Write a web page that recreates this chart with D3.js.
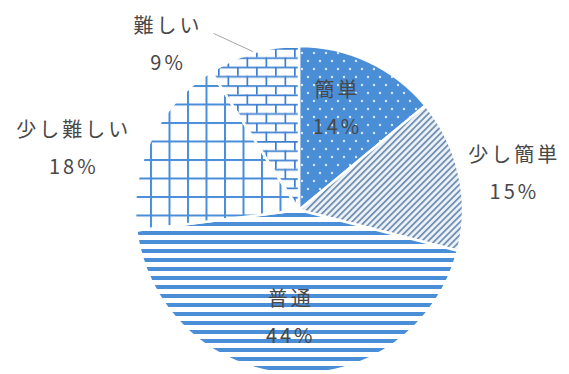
<!DOCTYPE html>
<html><head><meta charset="utf-8">
<script src="https://cdn.jsdelivr.net/npm/d3@7"></script>
<style>html,body{margin:0;padding:0;background:#fff;}svg{display:block;}</style>
</head><body>
<svg id="c" width="569" height="374"></svg>
<script>
const categories = ["簡単", "少し簡単", "普通", "少し難しい", "難しい"];
const values = [14, 15, 44, 18, 9];
const percentLabels = ["14%", "15%", "44%", "18%", "9%"];

const W = 569, H = 374, cx = 299, cy = 210, R = 164;
const blue = "#4a8ed8";
const svg = d3.select("#c");
const defs = svg.append("defs");

// pattern: dots on solid blue
let p = defs.append("pattern").attr("id","p0").attr("patternUnits","userSpaceOnUse").attr("width",12).attr("height",16);
p.append("rect").attr("width",12).attr("height",16).attr("fill",blue);
[[3,3],[9,11]].forEach(([x,y])=>p.append("circle").attr("cx",x).attr("cy",y).attr("r",1.2).attr("fill","#d6e8fa"));

// pattern: dense diagonal lines
p = defs.append("pattern").attr("id","p1").attr("patternUnits","userSpaceOnUse").attr("width",4.5).attr("height",4.5).attr("patternTransform","rotate(45)");
p.append("rect").attr("width",4.5).attr("height",4.5).attr("fill","#eaf1f9");
p.append("rect").attr("x",0).attr("y",0).attr("width",1.7).attr("height",4.5).attr("fill","#6f8cae");

// pattern: horizontal stripes
p = defs.append("pattern").attr("id","p2").attr("patternUnits","userSpaceOnUse").attr("width",10).attr("height",9).attr("y",cy);
p.append("rect").attr("width",10).attr("height",9).attr("fill","#fff");
p.append("rect").attr("y",0).attr("width",10).attr("height",4).attr("fill",blue);

// pattern: grid
p = defs.append("pattern").attr("id","p3").attr("patternUnits","userSpaceOnUse").attr("width",18.5).attr("height",18.5).attr("x",cx-4).attr("y",cy-2);
p.append("rect").attr("width",18.5).attr("height",18.5).attr("fill","#fff");
p.append("rect").attr("x",0).attr("width",2).attr("height",18.5).attr("fill",blue);
p.append("rect").attr("y",0).attr("width",18.5).attr("height",2).attr("fill",blue);

// pattern: bricks
p = defs.append("pattern").attr("id","p4").attr("patternUnits","userSpaceOnUse").attr("width",19).attr("height",18.6).attr("x",cx).attr("y",cy);
p.append("rect").attr("width",19).attr("height",18.6).attr("fill","#fff");
const bc = "#3d7fd0";
p.append("rect").attr("x",0).attr("y",0).attr("width",19).attr("height",1.7).attr("fill",bc);
p.append("rect").attr("x",0).attr("y",9.3).attr("width",19).attr("height",1.7).attr("fill",bc);
p.append("rect").attr("x",0).attr("y",0).attr("width",1.7).attr("height",9.3).attr("fill",bc);
p.append("rect").attr("x",9.5).attr("y",9.3).attr("width",1.7).attr("height",9.3).attr("fill",bc);

const fills = ["url(#p0)","url(#p1)","url(#p2)","url(#p3)","url(#p4)"];

const pie = d3.pie().sort(null).value(d => d);
const arcs = pie(values);
const arc = d3.arc().innerRadius(0).outerRadius(R);

const g = svg.append("g").attr("transform",`translate(${cx},${cy})`);
g.selectAll("path").data(arcs).join("path")
  .attr("d", arc)
  .attr("fill", (d,i) => fills[i])
  .attr("stroke", "#fff")
  .attr("stroke-width", 2.5)
  .attr("stroke-linejoin","round");

// label placement
const labelRadius = [108, 213, 108, 213, 213];
const labelNudge = [[-9,-4],[6,10],[-3,0],[-34,29],[-73,39]];
const polar = (a, r) => [Math.sin(a)*r, -Math.cos(a)*r];

arcs.forEach((d,i) => {
  const mid = (d.startAngle + d.endAngle)/2;
  const [bx, by] = polar(mid, labelRadius[i]);
  const x = bx + labelNudge[i][0], y = by + labelNudge[i][1];
  const t = g.append("text")
    .attr("x", x).attr("y", y)
    .attr("text-anchor","middle")
    .attr("font-family","'Noto Sans CJK JP', 'Noto Sans', sans-serif")
    .attr("font-size", 20)
    .attr("letter-spacing", 3)
    .attr("fill","#484848");
  t.append("tspan").attr("x", x+1.5).attr("y", y - 18.5).attr("dy","0.35em").text(categories[i]);
  t.append("tspan").attr("x", x+1.5).attr("y", y + 18.5).attr("dy","0.35em").text(percentLabels[i]);
  if (i === 4) {
    const [ex, ey] = polar(mid, R + 1);
    g.append("path")
      .attr("d", `M${x+47},${y-11}L${ex},${ey}`)
      .attr("stroke","#a6a6a6").attr("stroke-width",1).attr("fill","none");
  }
});
</script>
</body></html>
